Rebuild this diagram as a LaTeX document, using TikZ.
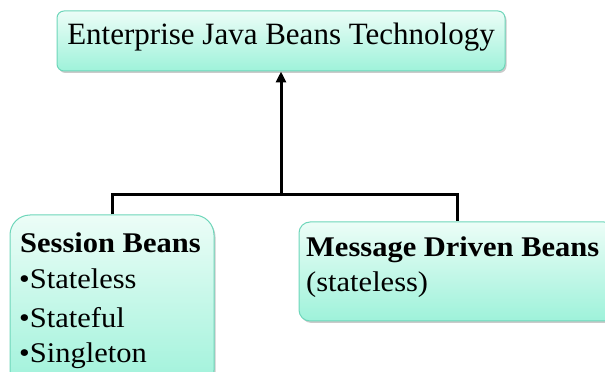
\documentclass[tikz,border=0pt]{standalone}
\usepackage{fontspec}
\setmainfont{Liberation Serif}
\newfontfamily\widefont[FakeStretch=1.07]{Liberation Serif}
\usetikzlibrary{shadows,arrows.meta}
\definecolor{boxtop}{RGB}{236,253,247}
\definecolor{boxbot}{RGB}{158,242,218}
\definecolor{boxline}{RGB}{110,214,186}
\tikzset{
  beanbox/.style={draw=boxline, line width=1pt, top color=boxtop, bottom color=boxbot,
    drop shadow={shadow xshift=1.5pt, shadow yshift=-2pt, opacity=0.35, fill=black!60},
    inner sep=0pt},
  conn/.style={line width=3pt, black},
  lbl/.style={anchor=base west, inner sep=0pt, font=\widefont\fontsize{28.5}{32}\selectfont},
  blbl/.style={lbl, font=\widefont\fontsize{28.5}{32}\selectfont\bfseries},
}
\begin{document}
\begin{tikzpicture}[x=1pt,y=1pt]
\useasboundingbox (0,0) rectangle (605,372);
\clip (0,0) rectangle (605,372);
\node[beanbox, rounded corners=7pt, minimum width=448pt, minimum height=60pt] (top) at (281,331) {};
\node[anchor=base, inner sep=0pt, font=\fontsize{31}{36}\selectfont] (toptext) at (281,327) {Enterprise Java Beans Technology};
\node[beanbox, rounded corners=20pt, minimum width=204pt, minimum height=175pt] (session) at (112,69.5) {};
\node[beanbox, rounded corners=11pt, minimum width=316pt, minimum height=99pt] (msg) at (457,100.5) {};
\node[blbl] (s1) at (20,119) {Session Beans};
\node[lbl] (s2) at (19,83) {•Stateless};
\node[lbl] (s3) at (19,44.5) {•Stateful};
\node[lbl] (s4) at (19,9.5) {•Singleton};
\node[blbl] (m1) at (306,115) {Message Driven Beans};
\node[lbl] (m2) at (306,80) {(stateless)};
\coordinate (j) at (281,177);
\draw[conn, line join=miter] (session.north) |- (j) -| (msg.north);
\draw[conn, -{Stealth[length=11pt,width=10pt,inset=0pt]}] (j) -- (top.south);
\end{tikzpicture}
\end{document}
